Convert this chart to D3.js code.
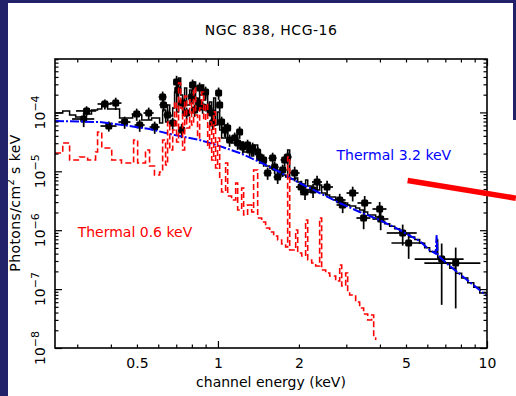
<!DOCTYPE html>
<html><head><meta charset="utf-8">
<script src="https://cdn.jsdelivr.net/npm/d3@7"></script>
<style>
body{margin:0;background:#fff}
svg{display:block}
text{font-family:"DejaVu Sans",sans-serif;fill:#000}
</style>
</head><body>
<svg id="c" width="516" height="396"></svg>
<script>
// ---------------- DATA ----------------
const title = "NGC 838, HCG-16";
const xLabel = "channel energy (keV)";
const xTickLabels = [0.5, 1, 2, 5, 10];
const xMajorTicks = [1, 10];
const xMinorTicks = [0.3,0.4,0.5,0.6,0.7,0.8,0.9,2,3,4,5,6,7,8,9];
const yDecades = [-8, -7, -6, -5, -4];
const xDomain = [0.248, 10];
const yDomain = [1e-8, 8.07e-4];

// observed spectrum: [energy keV, half-width keV, flux, flux error]
const dataPoints = [
 [0.317,0.030,7.73e-5,2.1e-5],[0.325,0.028,1.06e-4,2.1e-5],[0.380,0.023,1.39e-4,2.7e-5],
 [0.417,0.021,1.44e-4,3.4e-5],[0.393,0.027,5.87e-5,1.15e-5],[0.450,0.023,6.87e-5,1.6e-5],
 [0.499,0.021,9.39e-5,2.2e-5],[0.512,0.022,6.11e-5,1.43e-5],[0.553,0.024,9.77e-5,2.3e-5],
 [0.582,0.025,5.65e-5,1.33e-5],[0.623,0.021,1.83e-4,4.3e-5],[0.628,0.022,1.34e-4,3.1e-5],
 [0.650,0.022,9.04e-5,2.1e-5],[0.679,0.023,6.61e-5,1.55e-5],[0.702,0.018,3.28e-4,9.0e-5],
 [0.709,0.018,2.40e-4,5.6e-5],[0.733,0.019,5.02e-5,1.37e-5],[0.739,0.019,1.44e-4,3.4e-5],
 [0.765,0.020,9.77e-5,2.3e-5],[0.798,0.021,1.83e-4,4.3e-5],[0.805,0.021,2.92e-4,6.9e-5],
 [0.819,0.021,1.10e-4,2.6e-5],[0.848,0.022,1.44e-4,3.4e-5],[0.855,0.022,2.60e-4,6.1e-5],
 [0.877,0.023,1.24e-4,2.9e-5],[0.900,0.023,2.22e-4,5.2e-5],[0.916,0.024,1.19e-4,2.8e-5],
 [0.948,0.024,9.77e-5,2.3e-5],[0.956,0.025,6.61e-5,1.55e-5],[1.006,0.026,2.14e-4,5.0e-5],
 [1.015,0.026,1.34e-4,3.1e-5],[1.032,0.027,6.87e-5,1.6e-5],[1.059,0.027,5.02e-5,1.18e-5],
 [1.087,0.028,5.43e-5,1.27e-5],[1.105,0.028,3.40e-5,8.0e-6],[1.154,0.030,3.68e-5,8.6e-6],
 [1.184,0.030,3.02e-5,7.1e-6],[1.204,0.031,4.65e-5,1.09e-5],[1.236,0.032,2.59e-5,6.1e-6],
 [1.289,0.033,2.79e-5,6.5e-6],[1.312,0.034,2.30e-5,5.4e-6],[1.346,0.035,2.49e-5,5.8e-6],
 [1.405,0.036,2.13e-5,5.0e-6],[1.429,0.037,1.75e-5,4.1e-6],[1.479,0.038,1.56e-5,3.7e-6],
 [1.530,0.052,9.36e-6,2.2e-6],[1.597,0.055,1.68e-5,3.9e-6],[1.625,0.056,1.18e-5,2.8e-6],
 [1.667,0.057,8.00e-6,1.9e-6],[1.740,0.060,1.05e-5,2.5e-6],[1.770,0.061,1.56e-5,3.7e-6],
 [1.816,0.062,1.75e-5,4.1e-6],[1.928,0.083,9.36e-6,2.6e-6],[2.037,0.087,5.41e-6,1.5e-6],
 [2.107,0.090,4.45e-6,1.2e-6],[2.257,0.097,4.82e-6,1.3e-6],[2.336,0.100,6.58e-6,1.8e-6],
 [2.545,0.131,5.41e-6,1.5e-6],[2.835,0.146,3.26e-6,8.9e-7],[2.908,0.149,2.68e-6,7.3e-7],
 [3.168,0.163,4.28e-6,1.2e-6],[3.511,0.210,2.90e-6,9.1e-7],[3.480,0.209,1.61e-6,5.7e-7],
 [3.991,0.239,2.29e-6,7.2e-7],[4.026,0.276,1.55e-6,5.5e-7],[4.86,0.62,8.97e-7,3.5e-7],
 [5.115,0.70,6.06e-7,2.8e-7],[6.785,1.40,3.24e-7,2.7e-7],[7.65,1.80,2.77e-7,2.3e-7]
];

// total model histogram: [bin start keV, flux]
const totalModel = [
 [0.248,9.77e-5],[0.265,1.06e-4],[0.281,9.04e-5],[0.296,8.35e-5],[0.319,9.39e-5],[0.339,1.10e-4],
 [0.357,1.14e-4],[0.370,1.44e-4],[0.389,1.14e-4],[0.431,8.03e-5],[0.482,9.04e-5],[0.521,7.43e-5],
 [0.567,8.03e-5],[0.607,6.61e-5],[0.623,1.10e-4],[0.639,6.87e-5],[0.650,1.34e-4],[0.662,8.69e-5],
 [0.679,1.19e-4],[0.690,2.22e-4],[0.702,1.02e-4],[0.714,3.84e-4],[0.727,1.97e-4],[0.739,9.04e-5],
 [0.752,2.60e-4],[0.765,1.34e-4],[0.785,2.40e-4],[0.798,1.44e-4],[0.812,3.28e-4],[0.826,1.76e-4],
 [0.840,1.10e-4],[0.855,1.97e-4],[0.870,2.92e-4],[0.885,1.63e-4],[0.900,2.22e-4],[0.916,1.02e-4],
 [0.931,1.50e-4],[0.948,7.43e-5],[0.964,1.76e-4],[0.980,6.11e-5],[0.997,1.02e-4],[1.015,5.02e-5],
 [1.032,3.68e-5],[1.068,6.11e-5],[1.087,3.40e-5],[1.124,3.02e-5],[1.164,3.82e-5],[1.184,2.49e-5],
 [1.225,3.14e-5],[1.246,2.13e-5],[1.289,2.13e-5],[1.335,1.82e-5],[1.357,2.79e-5],[1.405,1.56e-5],
 [1.454,1.38e-5],[1.504,1.23e-5],[1.557,1.14e-5],[1.611,1.05e-5],[1.667,9.36e-6],[1.725,8.65e-6],
 [1.785,8.00e-6],[1.816,2.30e-5],[1.848,7.40e-6],[1.945,7.69e-6],[1.979,6.58e-6],[2.048,6.09e-6],
 [2.118,7.11e-6],[2.156,5.63e-6],[2.231,5.21e-6],[2.308,4.82e-6],[2.388,5.86e-6],[2.429,4.28e-6],
 [2.514,3.96e-6],[2.602,3.66e-6],[2.739,3.26e-6],[2.835,3.26e-6],[2.884,2.90e-6],[2.984,2.90e-6],
 [3.035,2.68e-6],[3.087,2.58e-6],[3.250,2.38e-6],[3.363,2.20e-6],[3.480,2.04e-6],[3.602,1.81e-6],
 [3.727,1.81e-6],[3.857,1.68e-6],[3.991,1.42e-6],[4.166,1.285e-6],[4.348,1.17e-6],[4.538,1.056e-6],
 [4.737,9.54e-7],[4.944,8.59e-7],[5.16,7.69e-7],[5.386,6.92e-7],[5.62,5.99e-7],[5.866,5.03e-7],
 [6.12,4.35e-7],[6.445,4.10e-7],[6.50,6.82e-7],[6.557,3.40e-7],[6.902,2.80e-7],[7.27,2.25e-7],
 [7.649,1.86e-7],[8.05,1.54e-7],[8.48,1.28e-7],[8.925,1.07e-7],[9.40,8.55e-8],[10,7.63e-8]
];

// hot (3.2 keV) component
const hotModel = [
 [0.248,7.14e-5],[0.306,7.0e-5],[0.363,6.87e-5],[0.443,6.11e-5],[0.557,5.22e-5],[0.690,4.13e-5],
 [0.855,3.40e-5],[0.99,2.79e-5],[1.204,2.05e-5],[1.429,1.44e-5],[1.696,9.73e-6],[2.012,6.33e-6],
 [2.388,4.28e-6],[2.835,2.90e-6],[3.363,2.04e-6],[3.991,1.49e-6],[4.737,1.01e-6],[5.62,6.55e-7],
 [6.12,4.6e-7],[6.44,4.0e-7],[6.50,8.3e-7],[6.56,3.75e-7],[7.27,2.47e-7],[8.62,1.32e-7],[10,7.64e-8]
];

// cool (0.6 keV) component histogram
const coolModel = [
 [0.248,2.05e-5],[0.265,3.02e-5],[0.281,1.56e-5],[0.306,1.75e-5],[0.328,1.56e-5],[0.351,2.13e-5],
 [0.357,4.65e-5],[0.370,2.49e-5],[0.403,1.56e-5],[0.438,1.38e-5],[0.486,3.40e-5],[0.503,1.38e-5],
 [0.538,2.30e-5],[0.557,1.23e-5],[0.581,8.65e-6],[0.607,9.73e-6],[0.623,3.40e-5],[0.639,1.28e-5],
 [0.650,6.87e-5],[0.662,2.30e-5],[0.679,5.02e-5],[0.690,1.50e-4],[0.702,3.14e-5],[0.714,3.16e-4],
 [0.727,1.19e-4],[0.739,2.30e-5],[0.752,1.90e-4],[0.765,5.43e-5],[0.785,1.63e-4],[0.798,6.11e-5],
 [0.812,2.60e-4],[0.826,9.04e-5],[0.840,3.68e-5],[0.855,1.19e-4],[0.870,2.22e-4],[0.885,7.4e-5],
 [0.900,1.39e-4],[0.916,2.49e-5],[0.931,6.87e-5],[0.948,1.56e-5],[0.964,1.02e-4],[0.980,1.14e-5],
 [0.997,3.68e-5],[1.015,7.69e-6],[1.032,4.45e-6],[1.068,1.38e-5],[1.087,3.81e-6],[1.124,3.26e-6],
 [1.164,6.33e-6],[1.184,2.20e-6],[1.225,5.21e-6],[1.246,1.81e-6],[1.289,2.68e-6],[1.335,2.04e-6],
 [1.357,1.05e-5],[1.405,1.61e-6],[1.454,1.38e-6],[1.504,1.09e-6],[1.557,9.32e-7],[1.611,7.97e-7],
 [1.667,6.82e-7],[1.725,5.83e-7],[1.785,5.19e-7],[1.816,1.75e-5],[1.848,4.61e-7],[1.945,1.01e-6],
 [1.979,4.10e-7],[2.048,3.65e-7],[2.118,1.49e-6],[2.156,3.12e-7],[2.231,2.77e-7],[2.308,2.47e-7],
 [2.388,1.61e-6],[2.429,2.11e-7],[2.514,1.88e-7],[2.602,1.67e-7],[2.739,1.37e-7],[2.835,2.56e-7],
 [2.884,1.13e-7],[2.984,1.88e-7],[3.035,8.93e-8],[3.087,7.94e-8],[3.250,6.04e-8],[3.363,4.78e-8],
 [3.480,3.78e-8],[3.602,2.99e-8],[3.727,3.63e-8],[3.792,1.48e-8],[3.857,1.37e-8]
];

const labelHot = {text:"Thermal 3.2 keV", at:[2.76, 1.56e-5]};
const labelCool = {text:"Thermal 0.6 keV", at:[0.301, 7.67e-7]};
const arrowLine = [[5.07, 7.0e-6], [12.8, 3.5e-6]];

// ---------------- DRAW ----------------
const W = 516, H = 396;
const L = 55, R = 487, T = 59, B = 348;
const svg = d3.select("#c");
svg.append("rect").attr("width",W).attr("height",H).attr("fill","#fff");

const x = d3.scaleLog().domain(xDomain).range([L, R]);
const y = d3.scaleLog().domain(yDomain).range([B, T]);

svg.append("defs").append("clipPath").attr("id","clip")
  .append("rect").attr("x",L).attr("y",T).attr("width",R-L).attr("height",B-T);

const plot = svg.append("g").attr("clip-path","url(#clip)");

// data with error bars
const pts = plot.append("g");
pts.selectAll("line.xe").data(dataPoints).join("line")
  .attr("x1",d=>x(d[0]-d[1])).attr("x2",d=>x(d[0]+d[1]))
  .attr("y1",d=>y(d[2])).attr("y2",d=>y(d[2]))
  .attr("stroke","#000").attr("stroke-width",1.7);
pts.selectAll("line.ye").data(dataPoints).join("line")
  .attr("x1",d=>x(d[0])).attr("x2",d=>x(d[0]))
  .attr("y1",d=>y(Math.max(d[2]-d[3],1e-9))).attr("y2",d=>y(d[2]+d[3]))
  .attr("stroke","#000").attr("stroke-width",1.7);
pts.selectAll("rect").data(dataPoints).join("rect")
  .attr("x",d=>x(d[0])-3.5).attr("y",d=>y(d[2])-3.5)
  .attr("width",7).attr("height",7).attr("rx",1.5).attr("fill","#000");

const step = d3.line().x(d=>x(d[0])).y(d=>y(d[1])).curve(d3.curveStepAfter);
const lin = d3.line().x(d=>x(d[0])).y(d=>y(d[1]));

plot.append("path").attr("d",step(totalModel)).attr("fill","none")
  .attr("stroke","#000").attr("stroke-width",1.5);
plot.append("path").attr("d",lin(hotModel)).attr("fill","none")
  .attr("stroke","#0000ff").attr("stroke-width",2).attr("stroke-dasharray","9,2,2,2");
plot.append("path").attr("d",step(coolModel)).attr("fill","none")
  .attr("stroke","#ff0000").attr("stroke-width",1.6).attr("stroke-dasharray","6,3");

// axes
function styleAxis(g){ g.select(".domain").remove(); g.selectAll("line").attr("stroke","#000").attr("stroke-width",1.2); }
const yMinorTicks = [];
yDecades.forEach(d=>{ for(let k=2;k<=9;k++){ const v=k*Math.pow(10,d); if(v<=yDomain[1]) yMinorTicks.push(v);} });
const yMajorTicks = yDecades.map(d=>Math.pow(10,d));

[[d3.axisBottom,B],[d3.axisTop,T]].forEach(([ax,pos])=>{
  svg.append("g").attr("transform",`translate(0,${pos})`)
    .call(ax(x).tickValues(xMinorTicks).tickSizeInner(-3.5).tickSizeOuter(0).tickFormat("")).call(styleAxis);
  svg.append("g").attr("transform",`translate(0,${pos})`)
    .call(ax(x).tickValues(xMajorTicks).tickSizeInner(-7).tickSizeOuter(0).tickFormat("")).call(styleAxis);
});
[[d3.axisLeft,L],[d3.axisRight,R]].forEach(([ax,pos])=>{
  svg.append("g").attr("transform",`translate(${pos},0)`)
    .call(ax(y).tickValues(yMinorTicks).tickSizeInner(-3.5).tickSizeOuter(0).tickFormat("")).call(styleAxis);
  svg.append("g").attr("transform",`translate(${pos},0)`)
    .call(ax(y).tickValues(yMajorTicks).tickSizeInner(-7).tickSizeOuter(0).tickFormat("")).call(styleAxis);
});

// x tick labels
const xl = svg.append("g").attr("transform",`translate(0,${B})`)
  .call(d3.axisBottom(x).tickValues(xTickLabels).tickSize(0).tickPadding(10).tickFormat(d=>String(d)));
xl.select(".domain").remove();
xl.selectAll("text").attr("font-family","DejaVu Sans, sans-serif").attr("font-size",14).attr("fill","#000");

// y tick labels (rotated, 10^n)
svg.append("g").selectAll("text").data(yDecades).join("text")
  .attr("transform",d=>`translate(45,${y(Math.pow(10,d))}) rotate(-90)`)
  .attr("text-anchor","middle").attr("font-size",14)
  .each(function(d){
    const t=d3.select(this);
    t.append("tspan").text("10");
    t.append("tspan").attr("dy",-6).attr("font-size",11).text("\u2212"+Math.abs(d));
  });

// frame
svg.append("rect").attr("x",L).attr("y",T).attr("width",R-L).attr("height",B-T)
  .attr("fill","none").attr("stroke","#000").attr("stroke-width",1.6);

// titles
svg.append("text").attr("x",(L+R)/2).attr("y",35).attr("text-anchor","middle")
  .attr("font-size",14).attr("letter-spacing",0.5).text(title);
svg.append("text").attr("x",(L+R)/2).attr("y",387).attr("text-anchor","middle")
  .attr("font-size",14).text(xLabel);
const yt = svg.append("text").attr("transform","translate(19.5,203) rotate(-90)")
  .attr("text-anchor","middle").attr("font-size",14).attr("letter-spacing",0.4);
yt.append("tspan").text("Photons/cm");
yt.append("tspan").attr("dy",-6).attr("font-size",10).text("2");
yt.append("tspan").attr("dy",6).text(" s keV");

// component labels
svg.append("text").attr("x",x(labelHot.at[0])).attr("y",y(labelHot.at[1]))
  .attr("font-size",14).style("fill","#0000ff").text(labelHot.text);
svg.append("text").attr("x",x(labelCool.at[0])).attr("y",y(labelCool.at[1]))
  .attr("font-size",14).style("fill","#ff0000").text(labelCool.text);

// red annotation stroke
svg.append("path").attr("d",lin(arrowLine)).attr("stroke","#ff0000")
  .attr("stroke-width",5.5).attr("fill","none");

// slide border
const navy = "#22226a";
svg.append("rect").attr("x",0).attr("y",0).attr("width",W).attr("height",3).attr("fill",navy);
svg.append("rect").attr("x",0).attr("y",0).attr("width",8).attr("height",H).attr("fill",navy);
svg.append("rect").attr("x",513).attr("y",0).attr("width",3).attr("height",120).attr("fill",navy);
</script>
</body></html>
